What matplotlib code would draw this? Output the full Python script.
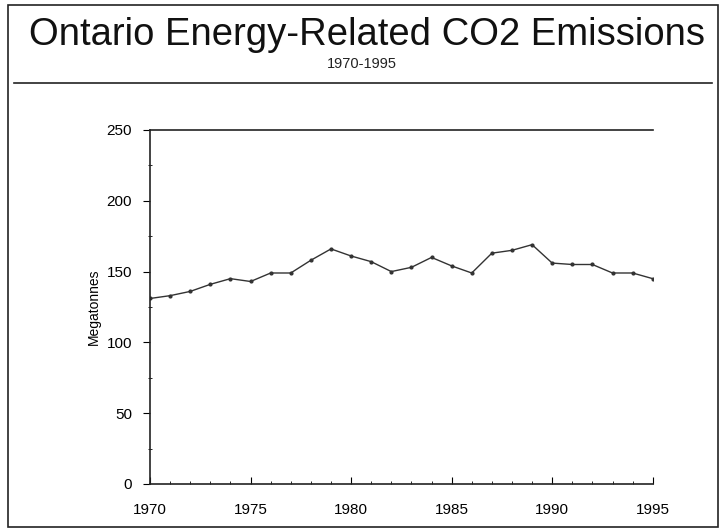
import numpy as np
import matplotlib.pyplot as plt
from matplotlib.patches import Rectangle
from matplotlib.lines import Line2D
from matplotlib.ticker import MultipleLocator

plt.rcParams['font.family'] = ['Liberation Sans', 'DejaVu Sans']

years = list(range(1970, 1996))
emissions = [131, 133, 136, 141, 145, 143, 149, 149, 158, 166, 161, 157, 150,
             153, 160, 154, 149, 163, 165, 169, 156, 155, 155, 149, 149, 145]

fig = plt.figure(figsize=(7.23, 5.29), dpi=100)

# page frame and rule under the heading
fig.patches.append(Rectangle((0.011, 0.004), 0.982, 0.987, transform=fig.transFigure,
                             fill=False, edgecolor='#222222', linewidth=1.2))
fig.lines.append(Line2D([0.02, 0.985], [0.843, 0.843], transform=fig.transFigure,
                        color='#222222', linewidth=1.2))

fig.text(0.508, 0.934, 'Ontario Energy-Related CO2 Emissions', ha='center', va='center',
         fontsize=27.5, color='#111111')
fig.text(0.5, 0.879, '1970-1995', ha='center', va='center', fontsize=10.5, color='#222222')

ax = fig.add_axes([0.2075, 0.0851, 0.6953, 0.6692])
ax.plot(years, emissions, color='#333333', linewidth=1.0, marker='o', markersize=2)

ax.set_xlim(1970, 1995)
ax.set_ylim(0, 250)
ax.xaxis.set_major_locator(MultipleLocator(5))
ax.xaxis.set_minor_locator(MultipleLocator(1))
ax.yaxis.set_major_locator(MultipleLocator(50))
ax.yaxis.set_minor_locator(MultipleLocator(25))
ax.tick_params(axis='x', which='major', direction='in', length=5, labelsize=11, pad=14)
ax.tick_params(axis='x', which='minor', direction='in', length=2)
ax.tick_params(axis='y', which='major', direction='out', length=5, labelsize=11, pad=8)
ax.tick_params(axis='y', which='minor', direction='inout', length=3)

ax.spines['right'].set_visible(False)
for s in ['left', 'bottom', 'top']:
    ax.spines[s].set_color('#222222')
    ax.spines[s].set_linewidth(1.2)

ax.set_ylabel('Megatonnes', fontsize=10, labelpad=4)

fig.savefig('out.png', dpi=100)
